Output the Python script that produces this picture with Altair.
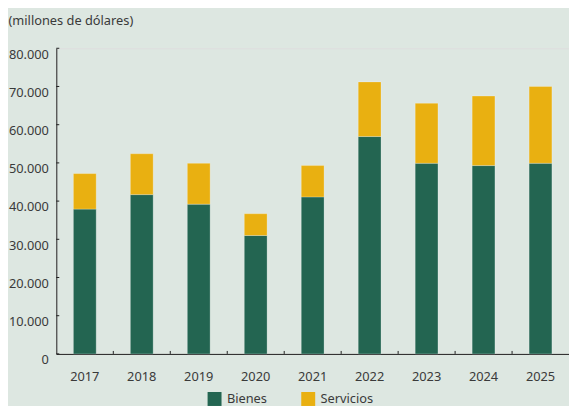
import altair as alt
import pandas as pd

years = ["2017", "2018", "2019", "2020", "2021", "2022", "2023", "2024", "2025"]
bienes = [37900, 41700, 39200, 31000, 41100, 56900, 49900, 49300, 49900]
servicios = [9300, 10700, 10700, 5700, 8200, 14300, 15700, 18200, 20100]
series = ["Bienes", "Servicios"]
y_ticks = [0, 10000, 20000, 30000, 40000, 50000, 60000, 70000, 80000]

rows = []
for i, y in enumerate(years):
    rows.append({"year": y, "tipo": series[0], "valor": bienes[i], "orden": 0})
    rows.append({"year": y, "tipo": series[1], "valor": servicios[i], "orden": 1})
df = pd.DataFrame(rows)
df_yt = pd.DataFrame({"valor": y_ticks})
df_xt = pd.DataFrame({"year": years[1:]})

FONT = "Noto Sans"
TXT = "#3a3a3a"
AX = "#1e1e1e"

xscale = alt.Scale(domain=years, paddingInner=0.6, paddingOuter=0.3)
yscale = alt.Scale(domain=[0, 80000], nice=False)

x_axis = alt.Axis(title=None, labelAngle=0, ticks=False, domain=True,
                  domainColor=AX, labelPadding=17, labelFontSize=13,
                  labelColor=TXT, labelFont=FONT)
y_axis = alt.Axis(values=y_ticks, ticks=False, grid=False, domain=True,
                  domainColor=AX, labelOverlap=False, labelFlush=False,
                  labelBound=False,
                  labelExpr="replace(format(datum.value, ','), ',', '.')",
                  labelFontSize=13, labelColor=TXT, labelFont=FONT,
                  labelPadding=8, labelOffset=6,
                  title="(millones de dólares)", titleAngle=0,
                  titleAlign="left", titleBaseline="middle",
                  titleX=-49, titleY=-28, titleFontSize=13,
                  titleFontWeight="normal", titleColor=TXT, titleFont=FONT)

bars = alt.Chart(df).mark_bar(stroke="#ffffff", strokeOpacity=0.25, strokeWidth=1).encode(
    x=alt.X("year:N", scale=xscale, sort=years, axis=x_axis),
    y=alt.Y("valor:Q", scale=yscale, stack="zero", axis=y_axis),
    color=alt.Color("tipo:N",
                    scale=alt.Scale(domain=series, range=["#236551", "#e9b011"]),
                    legend=alt.Legend(title=None, orient="none", direction="horizontal",
                                      legendX=153, legendY=348, symbolType="square",
                                      symbolSize=200, symbolStrokeWidth=0,
                                      labelFontSize=13, labelColor=TXT, labelFont=FONT,
                                      labelOffset=5, columnPadding=34)),
    order=alt.Order("orden:Q", sort="ascending"),
)

yt = alt.Chart(df_yt).mark_rule(color=AX, strokeWidth=1).encode(
    y=alt.Y("valor:Q", scale=yscale, axis=y_axis),
    x=alt.value(0),
    x2=alt.value(3),
)

xt = alt.Chart(df_xt).mark_rule(color=AX, strokeWidth=1, xOffset=-17.3).encode(
    x=alt.X("year:N", scale=xscale, sort=years, bandPosition=0, axis=x_axis),
    y=alt.value(307),
    y2=alt.value(310),
)

chart = alt.layer(bars, yt, xt).properties(
    width=520,
    height=310,
    autosize=alt.AutoSizeParams(type="none"),
    padding={"left": 49, "top": 38, "right": 0, "bottom": 52},
    background="#dde7e1",
).configure_view(stroke=None).configure(font=FONT)

chart.save("out.html", embed_options={"renderer": "svg", "actions": False})
